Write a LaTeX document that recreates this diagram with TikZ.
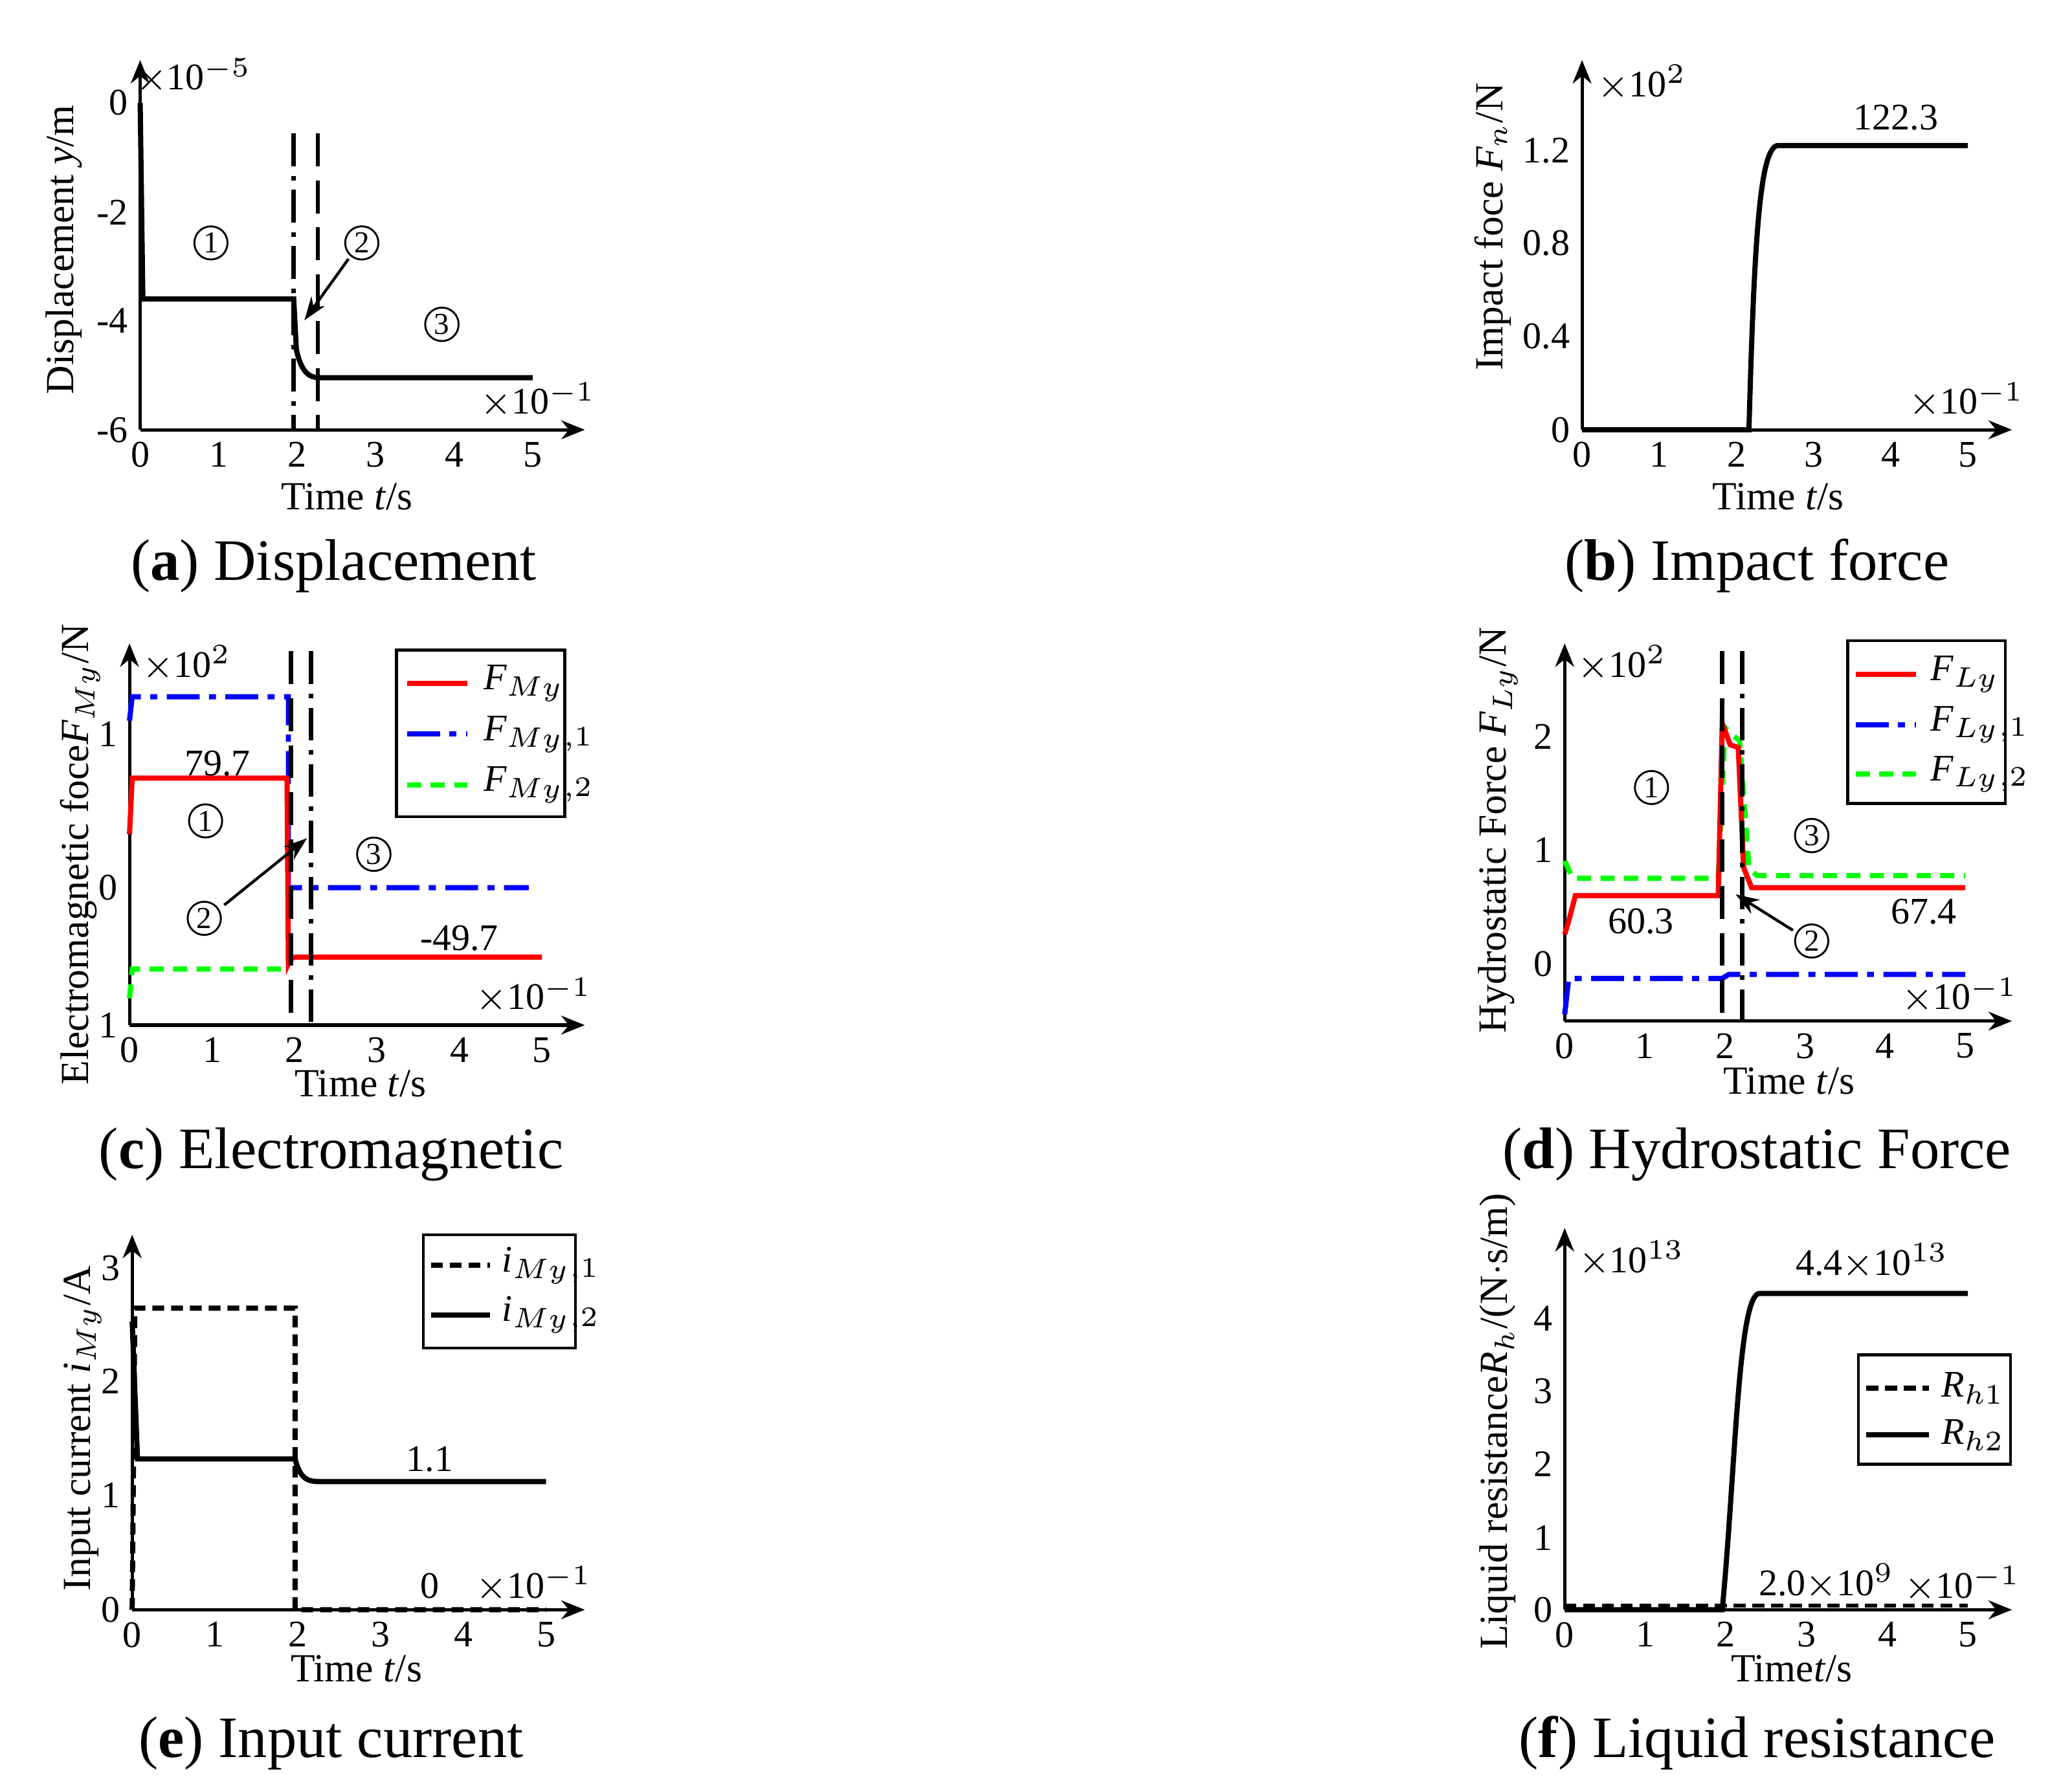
\documentclass[tikz,border=0pt]{standalone}
\usepackage{fontspec}
\setmainfont{Liberation Serif}
\usetikzlibrary{arrows.meta}
\begin{document}
\begin{tikzpicture}[x=0.01cm,y=-0.01cm,
 ax/.style={line width=0.7pt,-{Stealth[length=5pt,width=4pt]}},
 tk/.style={font=\fontsize{8}{9}\selectfont,inner sep=1pt},
 lab/.style={font=\fontsize{8.5}{10}\selectfont,inner sep=1pt},
 captxt/.style={font=\fontsize{12.5}{14}\selectfont},
 circ/.style={circle,draw,line width=0.4pt,inner sep=0.6pt,font=\fontsize{6.5}{7}\selectfont},
 cv/.style={line width=1.1pt},
 vd/.style={line width=0.9pt,dash pattern=on 7pt off 3pt},
 vdd/.style={line width=0.9pt,dash pattern=on 7pt off 2pt on 1pt off 2pt},
 ar/.style={line width=0.6pt,-{Stealth[length=5pt,width=3.5pt]}},
 lg/.style={draw,line width=0.6pt,fill=white}]
\useasboundingbox (0,0) rectangle (1552,1334);
% ---------- (a)
\draw[ax] (105,322) -- (438,322);
\draw[ax] (105,322) -- (105,45);
\foreach \v [count=\i from 0] in {0,1,2,3,4,5}{\node[tk,below] at (105+58.8*\i,327){\v};}
\foreach \y/\t in {77/0,159/-2,240/-4,322/-6}{\node[tk,left] at (100,\y){\t};}
\draw[cv] (105,77) -- (107,224) -- (220,224) -- (222,262) .. controls (226,280) and (232,283) .. (240,283) -- (399,283);
\draw[vdd] (220,100) -- (220,322);
\draw[vd] (238,100) -- (238,322);
\node[circ] (a1) at (158,182){1};
\node[circ] (a2) at (271,182){2};
\node[circ] (a3) at (331,243){3};
\coordinate (a2t) at (228,240);
\draw[ar] (a2) ++(-10,12) -- (a2t);
\node[tk] (ae) at (145,57){$\times$10$^{-5}$};
\node[tk] (ae2) at (403,300){$\times$10$^{-1}$};
\node[lab,rotate=90] (ay) at (48,187){Displacement \textit{y}/m};
\node[lab] (ax) at (260,372){Time \textit{t}/s};
\node[captxt] (ac) at (250,424){(\textbf{a}) Displacement};
% ---------- (b)
\draw[ax] (1185,322) -- (1507,322);
\draw[ax] (1185,322) -- (1185,45);
\foreach \v [count=\i from 0] in {0,1,2,3,4,5}{\node[tk,below] at (1185+57.8*\i,327){\v};}
\foreach \y/\t in {113/1.2,182/0.8,252/0.4,322/0}{\node[tk,left] at (1180,\y){\t};}
\draw[cv] (1185,322) -- (1310,322) .. controls (1314,180) and (1318,109) .. (1332,109) -- (1474,109);
\node[tk] (bv) at (1420,88){122.3};
\node[tk] (be) at (1230,62){$\times$10$^{2}$};
\node[tk] (be2) at (1473,300){$\times$10$^{-1}$};
\node[lab,rotate=90] (by) at (1118,170){Impact foce \textit{F$_n$}/N};
\node[lab] (bx) at (1332,372){Time \textit{t}/s};
\node[captxt] (bc) at (1316,424){(\textbf{b}) Impact force};
% ---------- (c)
\draw[ax] (97,768) -- (438,768);
\draw[ax] (97,768) -- (97,482);
\foreach \v [count=\i from 0] in {0,1,2,3,4,5}{\node[tk,below] at (97+61.8*\i,773){\v};}
\foreach \y/\t in {550/1,665/0,768/1}{\node[tk,left] at (92,\y){\t};}
\draw[cv,green,dash pattern=on 3pt off 2pt] (97,748) -- (99,726) -- (216,726);
\draw[cv,blue,dash pattern=on 7pt off 2pt on 1.5pt off 2pt] (97,540) -- (99,522) -- (216,522) -- (216,665) -- (396,665);
\draw[cv,red] (97,625) -- (99,583) -- (215,583) -- (216,722) .. controls (218,717) and (220,717) .. (224,717) -- (406,717);
\draw[vd] (218,488) -- (218,768);
\draw[vdd] (233,488) -- (233,768);
\node[circ] (c1) at (154,615){1};
\node[circ] (c3) at (280,640){3};
\node[circ] (c2) at (153,688){2};
\coordinate (c2t) at (230,628);
\draw[ar] (c2) ++(15,-10) -- (c2t);
\node[tk] (cv1) at (163,572){79.7};
\node[tk] (cv2) at (344,703){-49.7};
\node[tk] (ce) at (140,497){$\times$10$^{2}$};
\node[tk] (ce2) at (400,746){$\times$10$^{-1}$};
\node[lab,rotate=90] (cy) at (60,640){Electromagnetic foce\textit{F$_{My}$}/N};
\node[lab] (cx) at (270,812){Time \textit{t}/s};
\node[captxt] (cc) at (248,865){(\textbf{c}) Electromagnetic};
\draw[lg] (297,487) rectangle (423,612);
\draw[cv,red] (305,512) -- (350,512); \node[tk,anchor=west] at (358,512){\textit{F$_{My}$}};
\draw[cv,blue,dash pattern=on 7pt off 2pt on 1.5pt off 2pt] (305,550) -- (350,550); \node[tk,anchor=west] at (358,550){\textit{F$_{My}$}$_{,1}$};
\draw[cv,green,dash pattern=on 3pt off 2pt] (305,588) -- (350,588); \node[tk,anchor=west] at (358,588){\textit{F$_{My}$}$_{,2}$};
% ---------- (d)
\draw[ax] (1172,765) -- (1507,765);
\draw[ax] (1172,765) -- (1172,482);
\foreach \v [count=\i from 0] in {0,1,2,3,4,5}{\node[tk,below] at (1172+60*\i,770){\v};}
\foreach \y/\t in {552/2,637/1,722/0}{\node[tk,left] at (1167,\y){\t};}
\draw[cv,blue,dash pattern=on 7pt off 2pt on 1.5pt off 2pt] (1172,760) -- (1175,733) -- (1290,733) -- (1295,730) -- (1472,730);
\draw[cv,green,dash pattern=on 3pt off 2pt] (1172,645) -- (1178,658) -- (1287,658) -- (1292,545) -- (1297,550) -- (1303,555) -- (1310,650) -- (1316,656) -- (1472,656);
\draw[cv,red] (1172,700) -- (1175,690) -- (1180,671) -- (1287,671) -- (1290,542) -- (1296,558) -- (1302,560) -- (1306,650) -- (1312,665) -- (1472,665);
\draw[vd] (1290,488) -- (1290,765);
\draw[vdd] (1305,488) -- (1305,765);
\node[circ] (d1) at (1237,590){1};
\node[circ] (d3) at (1357,626){3};
\node[circ] (d2) at (1357,705){2};
\coordinate (d2t) at (1300,670);
\draw[ar] (d2) ++(-14,-8) -- (d2t);
\node[tk] (dv1) at (1229,690){60.3};
\node[tk] (dv2) at (1441,683){67.4};
\node[tk] (de) at (1215,497){$\times$10$^{2}$};
\node[tk] (de2) at (1468,746){$\times$10$^{-1}$};
\node[lab,rotate=90] (dy) at (1122,622){Hydrostatic Force \textit{F$_{Ly}$}/N};
\node[lab] (dx) at (1340,810){Time \textit{t}/s};
\node[captxt] (dc) at (1316,865){(\textbf{d}) Hydrostatic Force};
\draw[lg] (1384,480) rectangle (1502,602);
\draw[cv,red] (1390,505) -- (1435,505); \node[tk,anchor=west] at (1442,505){\textit{F$_{Ly}$}};
\draw[cv,blue,dash pattern=on 7pt off 2pt on 1.5pt off 2pt] (1390,543) -- (1435,543); \node[tk,anchor=west] at (1442,543){\textit{F$_{Ly}$}$_{,1}$};
\draw[cv,green,dash pattern=on 3pt off 2pt] (1390,580) -- (1435,580); \node[tk,anchor=west] at (1442,580){\textit{F$_{Ly}$}$_{,2}$};
% ---------- (e)
\draw[ax] (99,1206) -- (438,1206);
\draw[ax] (99,1206) -- (99,925);
\foreach \v [count=\i from 0] in {0,1,2,3,4,5}{\node[tk,below] at (99+62*\i,1211){\v};}
\foreach \y/\t in {950/3,1035/2,1120/1,1206/0}{\node[tk,left] at (94,\y){\t};}
\draw[cv,dash pattern=on 2.5pt off 1.5pt] (99,1206) -- (101,980) -- (221,980) -- (221,1206) -- (409,1206);
\draw[cv] (99,990) -- (103,1093) -- (221,1093) .. controls (225,1108) and (230,1110) .. (240,1110) -- (409,1110);
\node[tk] (ev1) at (322,1093){1.1};
\node[tk] (ev2) at (322,1188){0};
\node[tk] (ee2) at (400,1187){$\times$10$^{-1}$};
\node[lab,rotate=90] (ey) at (62,1070){Input current \textit{i$_{My}$}/A};
\node[lab] (ex) at (267,1250){Time \textit{t}/s};
\node[captxt] (ec) at (248,1306){(\textbf{e}) Input current};
\draw[lg] (317,925) rectangle (431,1010);
\draw[cv,dash pattern=on 2.5pt off 1.5pt] (323,948) -- (367,948); \node[tk,anchor=west] at (372,948){\textit{i$_{My}$}$_{,1}$};
\draw[cv] (323,985) -- (367,985); \node[tk,anchor=west] at (372,985){\textit{i$_{My}$}$_{,2}$};
% ---------- (f)
\draw[ax] (1172,1206) -- (1507,1206);
\draw[ax] (1172,1206) -- (1172,920);
\foreach \v [count=\i from 0] in {0,1,2,3,4,5}{\node[tk,below] at (1172+60.4*\i,1211){\v};}
\foreach \y/\t in {988/4,1042/3,1097/2,1152/1,1206/0}{\node[tk,left] at (1167,\y){\t};}
\draw[cv,dash pattern=on 2.5pt off 1.5pt,line width=0.8pt] (1172,1203) -- (1474,1203);
\draw[cv] (1172,1206) -- (1290,1206) .. controls (1300,1100) and (1302,969) .. (1318,969) -- (1474,969);
\node[tk] (fv1) at (1402,945){4.4$\times$10$^{13}$};
\node[tk] (fv2) at (1368,1185){2.0$\times$10$^{9}$};
\node[tk] (fe) at (1222,943){$\times$10$^{13}$};
\node[tk] (fe2) at (1470,1187){$\times$10$^{-1}$};
\node[lab,rotate=90] (fy) at (1122,1065){Liquid resistance\textit{R$_h$}/(N$\cdot$s/m)};
\node[lab] (fx) at (1342,1250){Time\textit{t}/s};
\node[captxt] (fc) at (1316,1306){(\textbf{f}) Liquid resistance};
\draw[lg] (1392,1015) rectangle (1506,1097);
\draw[cv,dash pattern=on 2.5pt off 1.5pt] (1398,1040) -- (1445,1040); \node[tk,anchor=west] at (1450,1040){\textit{R$_{h1}$}};
\draw[cv] (1398,1075) -- (1445,1075); \node[tk,anchor=west] at (1450,1075){\textit{R$_{h2}$}};
\end{tikzpicture}
\end{document}
